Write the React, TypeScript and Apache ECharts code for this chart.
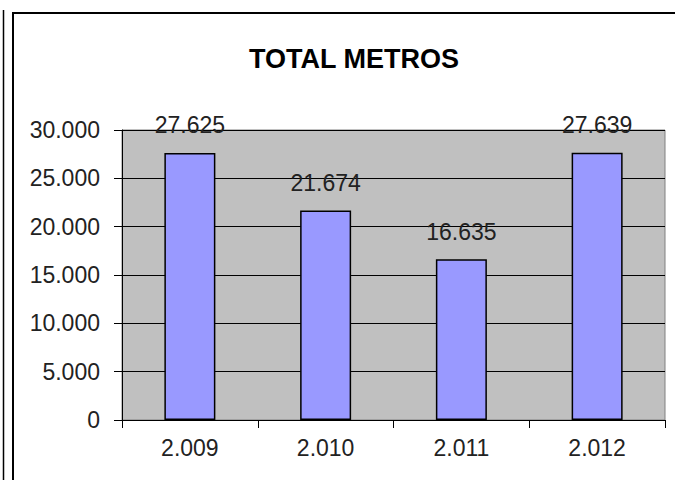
import React, { useEffect, useRef } from "react";
import * as echarts from "echarts";

const categories = ["2.009", "2.010", "2.011", "2.012"];
const values = [27625, 21674, 16635, 27639];
const titleText = "TOTAL METROS";
const yMin = 0;
const yMax = 30000;
const yInterval = 5000;

const fmt = (n: number) =>
  String(Math.round(n)).replace(/\B(?=(\d{3})+(?!\d))/g, ".");

export default function App() {
  const ref = useRef<HTMLDivElement>(null);
  useEffect(() => {
    if (!ref.current) return;
    const chart = echarts.init(ref.current, undefined, { renderer: "svg" });
    const font = "'Liberation Sans', Arial, sans-serif";
    chart.setOption({
      animation: false,
      backgroundColor: "#ffffff",
      title: {
        text: titleText,
        left: 244,
        top: 40,
        textStyle: {
          fontFamily: font,
          fontSize: 27,
          fontWeight: "bold",
          color: "#000",
        },
      },
      graphic: [
        {
          type: "line",
          shape: { x1: 3.5, y1: 10, x2: 3.5, y2: 480 },
          style: { stroke: "#000", lineWidth: 1.5 },
        },
        {
          type: "rect",
          shape: { x: 13, y: 13, width: 700, height: 500 },
          style: { fill: "none", stroke: "#000", lineWidth: 2 },
        },
      ],
      grid: {
        left: 122,
        right: 10,
        top: 130,
        bottom: 60,
        show: true,
        backgroundColor: "#C0C0C0",
        borderColor: "#808080",
        borderWidth: 1,
      },
      xAxis: {
        type: "category",
        data: categories,
        axisLine: { show: true, lineStyle: { color: "#000", width: 1 } },
        axisTick: { show: true, length: 8, lineStyle: { color: "#000" } },
        axisLabel: {
          margin: 16,
          fontFamily: font,
          fontSize: 23,
          color: "#222",
        },
      },
      yAxis: {
        type: "value",
        min: yMin,
        max: yMax,
        interval: yInterval,
        axisLine: { show: true, lineStyle: { color: "#000", width: 1 } },
        axisTick: { show: true, length: 8, lineStyle: { color: "#000" } },
        splitLine: { show: true, lineStyle: { color: "#000", width: 1 } },
        axisLabel: {
          margin: 22,
          fontFamily: font,
          fontSize: 23,
          color: "#222",
          formatter: (v: number) => fmt(v),
        },
      },
      series: [
        {
          type: "bar",
          data: values,
          barWidth: 51,
          itemStyle: { color: "#9999FF", borderColor: "#000", borderWidth: 1.5 },
          label: {
            show: true,
            position: "top",
            distance: 16,
            fontFamily: font,
            fontSize: 23,
            color: "#222",
            formatter: (p: any) => fmt(p.value),
          },
        },
      ],
    });
    return () => chart.dispose();
  }, []);
  return (
    <div
      ref={ref}
      style={{ position: "fixed", left: 0, top: 0, width: 675, height: 480 }}
    />
  );
}
